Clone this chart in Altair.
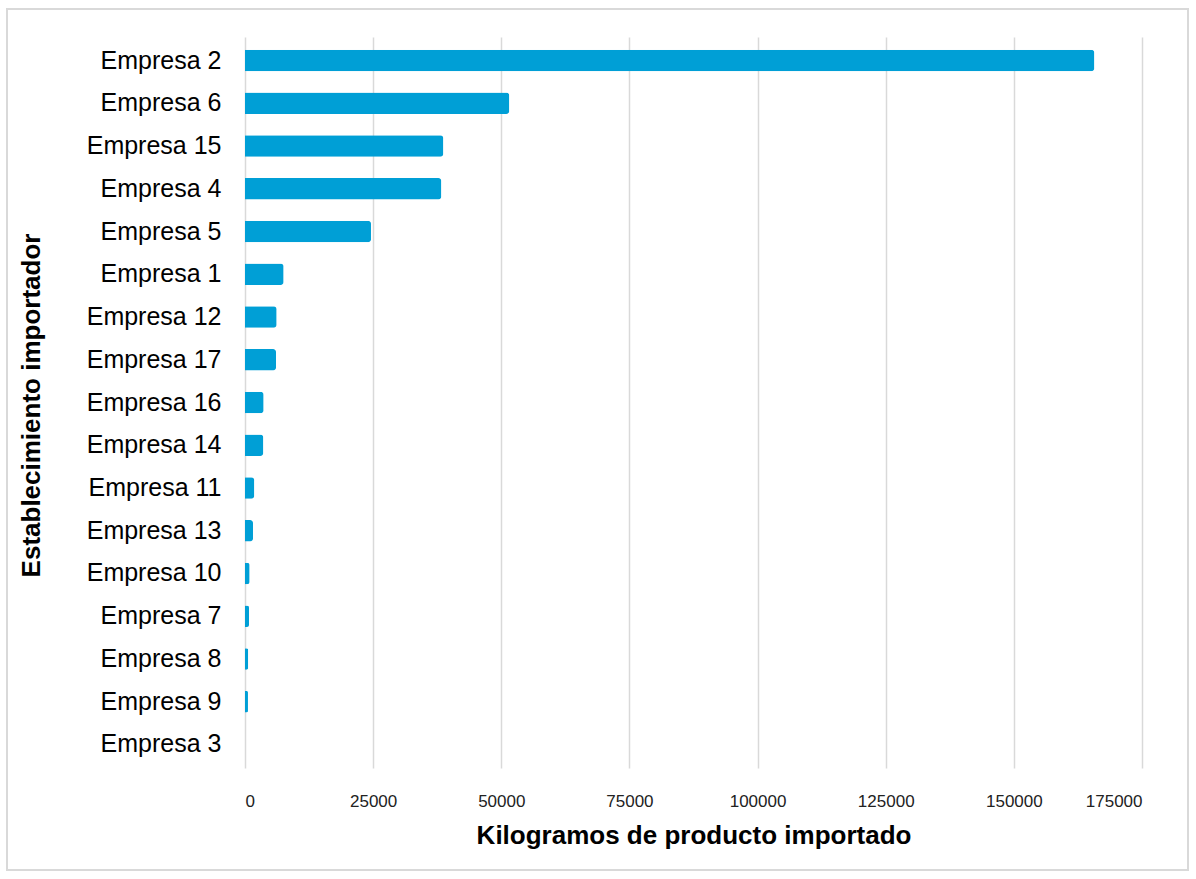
import altair as alt
import pandas as pd

empresas = ["Empresa 2", "Empresa 6", "Empresa 15", "Empresa 4", "Empresa 5", "Empresa 1",
            "Empresa 12", "Empresa 17", "Empresa 16", "Empresa 14", "Empresa 11", "Empresa 13",
            "Empresa 10", "Empresa 7", "Empresa 8", "Empresa 9", "Empresa 3"]
kilogramos = [165700, 51560, 38690, 38300, 24580, 7530,
              6170, 6050, 3630, 3570, 1810, 1560,
              900, 780, 620, 580, 0]
x_ticks = [0, 25000, 50000, 75000, 100000, 125000, 150000, 175000]

df = pd.DataFrame({"empresa": empresas, "kg": kilogramos})

W, H = 897, 731

bars = alt.Chart(df).mark_bar(color="#009FD6", cornerRadiusEnd=3).encode(
    x=alt.X("kg:Q",
            scale=alt.Scale(domain=[0, 175000], nice=False),
            axis=alt.Axis(values=x_ticks, format="d", title="Kilogramos de producto importado",
                          grid=True, gridColor="#D9D9D9", gridWidth=1.5,
                          domain=False, ticks=False,
                          labelFont="Liberation Sans Narrow, Arial Narrow, Liberation Sans",
                          labelFontSize=17,
                          labelColor="#222222", labelPadding=25,
                          titleFont="Liberation Sans", titleFontSize=26, titleFontWeight="bold",
                          titleColor="#000000", titlePadding=13)),
    y=alt.Y("empresa:N", sort=empresas,
            scale=alt.Scale(paddingInner=0.5, paddingOuter=0.3),
            axis=alt.Axis(title="Establecimiento importador", domain=False, ticks=False,
                          grid=False,
                          labelFont="Liberation Sans", labelFontSize=25, labelColor="#000000",
                          labelPadding=24,
                          titleFont="Liberation Sans", titleFontSize=26, titleFontWeight="bold",
                          titleColor="#000000", titleX=-201, titleY=368))
)

border = alt.Chart(df).mark_rect(fill=None, stroke="#D9D9D9", strokeWidth=1.5).encode(
    x=alt.value(-238), x2=alt.value(943), y=alt.value(-28), y2=alt.value(833)
)

chart = alt.layer(border, bars).properties(
    width=W, height=H,
    autosize=alt.AutoSizeParams(type="none"),
    padding={"left": 245, "top": 37, "right": 54, "bottom": 111},
    background="white"
).configure_view(stroke=None)

chart.save("out.html", embed_options={"renderer": "svg", "actions": False})
